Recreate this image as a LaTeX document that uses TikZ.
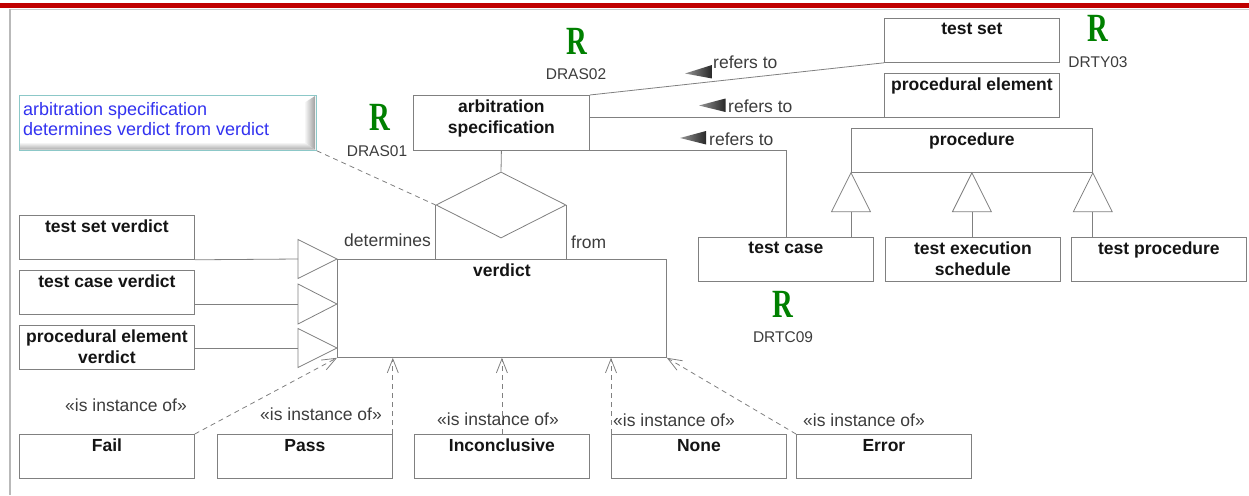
\documentclass[tikz,border=0pt]{standalone}
\usepackage{fontspec}
\setmainfont{Liberation Sans}
\newfontfamily\serifR{Liberation Serif}
\usetikzlibrary{arrows.meta,shapes.geometric}
\definecolor{boxgray}{RGB}{128,128,128}
\definecolor{titlecol}{RGB}{20,20,20}
\definecolor{lblcol}{RGB}{60,60,60}
\definecolor{reqgreen}{RGB}{0,128,0}
\definecolor{redbar}{RGB}{192,0,0}
\definecolor{notecol}{RGB}{140,200,200}
\definecolor{noteblue}{RGB}{50,50,240}
\definecolor{readlight}{RGB}{150,150,150}
\definecolor{readdark}{RGB}{40,40,40}
\newcommand{\ttlfont}{\fontsize{17.5}{20.5}\selectfont\bfseries}
\newcommand{\lblfont}{\fontsize{17.5}{20}\selectfont}
\newcommand{\codefont}{\fontsize{15.5}{18}\selectfont}
\newcommand{\reqR}{\scalebox{0.72}[1]{\serifR\bfseries\fontsize{40}{40}\selectfont R}}
\begin{document}
\begin{tikzpicture}[x=1pt,y=-1pt,
 cls/.style={draw=boxgray, line width=0.8pt, anchor=north west, inner sep=0pt, minimum width=175pt, minimum height=44pt, fill=white},
 ttl/.style={anchor=north, inner sep=0pt, yshift=-5pt, font=\ttlfont, align=center, text=titlecol},
 conn/.style={draw=boxgray, line width=0.8pt},
 inst/.style={draw=boxgray, line width=0.8pt, dash pattern=on 5pt off 4pt, -{Straight Barb[length=14pt,width=11pt]}},
 gen/.style={draw=boxgray, line width=0.8pt, fill=white},
 lbl/.style={font=\lblfont, text=lblcol, inner sep=0pt},
 code/.style={font=\codefont, text=lblcol, inner sep=0pt, anchor=base},
 req/.style={inner sep=0pt, text=reqgreen},
 reading/.style={left color=readlight, right color=readdark, draw=none}
]
\useasboundingbox (0,0) rectangle (1249,495);
% frame
\fill[redbar] (0,3) rectangle (1249,8.5);
\draw[gray!40, line width=1pt] (10,9.5) -- (1249,9.5);
\draw[gray!55, line width=2pt] (10,9) -- (10,495);

% note
\node[draw=notecol, fill=white, line width=0.8pt, anchor=north west, inner sep=0pt, minimum width=297pt, minimum height=55pt] (note) at (19,95) {};
\shade[top color=white, bottom color=gray!65] (20,142) -- (304,142) -- (315,149.5) -- (20,149.5) -- cycle;
\shade[left color=white, right color=gray!75] (304,103) -- (315,96) -- (315,149.5) -- (304,142) -- cycle;
\draw[notecol, line width=0.8pt] (note.north west) rectangle (note.south east);
\node[anchor=north west, inner sep=0pt, align=left, font=\fontsize{18}{20}\selectfont, text=noteblue] (notetext) at (23,102) {arbitration specification\\determines verdict from verdict};

% boxes
\node[cls, minimum width=176pt, minimum height=55pt, label={[ttl]north:{arbitration\\specification}}] (arb) at (413,95) {};
\node[cls, label={[ttl]north:{test set}}] (tset) at (884,18) {};
\node[cls, label={[ttl]north:{procedural element}}] (pel) at (884,73) {};
\node[cls, minimum width=241pt, label={[ttl]north:{procedure}}] (proc) at (851,128) {};
\node[cls, label={[ttl]north:{test case}}] (tcase) at (698,237) {};
\node[cls, label={[ttl]north:{test execution\\schedule}}] (tes) at (885,237) {};
\node[cls, label={[ttl]north:{test procedure}}] (tproc) at (1071,237) {};
\node[cls, label={[ttl]north:{test set verdict}}] (tsv) at (19,215) {};
\node[cls, label={[ttl]north:{test case verdict}}] (tcv) at (19,270) {};
\node[cls, label={[ttl]north:{procedural element\\verdict}}] (pev) at (19,325) {};
\node[cls, minimum width=329pt, minimum height=98pt, label={[ttl]north:{verdict}}] (verdict) at (337,259) {};
\node[cls, label={[ttl]north:{Fail}}] (fail) at (19,434) {};
\node[cls, label={[ttl]north:{Pass}}] (pass) at (217,434) {};
\node[cls, label={[ttl]north:{Inconclusive}}] (inc) at (414,434) {};
\node[cls, label={[ttl]north:{None}}] (none) at (611,434) {};
\node[cls, label={[ttl]north:{Error}}] (error) at (796,434) {};

% diamond (association)
\node[diamond, draw=boxgray, line width=0.8pt, fill=white, inner sep=0pt, minimum width=130pt, minimum height=66pt] (dia) at (501,205) {};
\draw[conn] (arb.south) -- (dia.north);
\draw[conn] (dia.west) -- (dia.west |- verdict.north);
\draw[conn] (dia.east) -- (dia.east |- verdict.north);
\draw[boxgray, line width=0.8pt, dash pattern=on 5pt off 4pt] (note.south east) -- (dia.west);
\node[lbl, anchor=base east] (ldet) at (431,246) {determines};
\node[lbl, anchor=base west] (lfrom) at (571,248) {from};

% refers to
\draw[conn] (arb.north east) -- (tset.south west);
\draw[conn] (arb.east |- pel.south west) -- (pel.south west);
\draw[conn] (arb.south east) -| (tcase.north);
\shade[reading] (685,73.5) -- (712,65) -- (712,78.5) -- cycle;
\shade[reading] (699,105.5) -- (725.5,98.5) -- (725.5,112) -- cycle;
\shade[reading] (680,138) -- (706,131) -- (706,144.5) -- cycle;
\node[lbl, anchor=base west] (rt1) at (713,68) {refers to};
\node[lbl, anchor=base west] (rt2) at (728,112) {refers to};
\node[lbl, anchor=base west] (rt3) at (709,145) {refers to};

% generalisation to procedure
\draw[gen] (proc.south west) -- ++(-19.5,39) -- ++(39,0) -- cycle;
\draw[conn] ([yshift=-39pt]proc.south west) -- (proc.south west |- tcase.north);
\draw[gen] (proc.south) -- ++(-19.5,39) -- ++(39,0) -- cycle;
\draw[conn] ([yshift=-39pt]proc.south) -- (proc.south |- tes.north);
\draw[gen] (proc.south east) -- ++(-19.5,39) -- ++(39,0) -- cycle;
\draw[conn] ([yshift=-39pt]proc.south east) -- (proc.south east |- tproc.north);

% generalisation to verdict
\coordinate (a1) at (verdict.north west);
\coordinate (a2) at (337,304);
\coordinate (a3) at (337,348);
\draw[gen] (a1) -- ++(-39,-19.5) -- ++(0,39) -- cycle;
\draw[conn] (tsv.south east) -- ([xshift=-39pt]a1);
\draw[gen] (a2) -- ++(-39,-20) -- ++(0,40) -- cycle;
\draw[conn] (tcv.east |- a2) -- ([xshift=-39pt]a2);
\draw[gen] (a3) -- ++(-39,-19.5) -- ++(0,39) -- cycle;
\draw[conn] (pev.east |- a3) -- ([xshift=-39pt]a3);

% instances
\draw[inst] (fail.north east) -- (verdict.south west);
\draw[inst] (pass.north east) -- (pass.north east |- verdict.south);
\draw[inst] (inc.north) -- (inc.north |- verdict.south);
\draw[inst] (none.north west) -- (none.north west |- verdict.south);
\draw[inst] (error.north west) -- (verdict.south east);
\node[lbl, anchor=base] (i1) at (126,411) {«is instance of»};
\node[lbl, anchor=base] (i2) at (321,420) {«is instance of»};
\node[lbl, anchor=base] (i3) at (498,425) {«is instance of»};
\node[lbl, anchor=base] (i4) at (674,426) {«is instance of»};
\node[lbl, anchor=base] (i5) at (864,426) {«is instance of»};

% requirement markers
\node[req] (r1) at (380,117.5) {\reqR};
\node[code] (c1) at (377,156) {DRAS01};
\node[req] (r2) at (577,41) {\reqR};
\node[code] (c2) at (576,79) {DRAS02};
\node[req] (r3) at (1098,28.5) {\reqR};
\node[code] (c3) at (1098,67) {DRTY03};
\node[req] (r4) at (783,304.5) {\reqR};
\node[code] (c4) at (783,342) {DRTC09};
\end{tikzpicture}
\end{document}
